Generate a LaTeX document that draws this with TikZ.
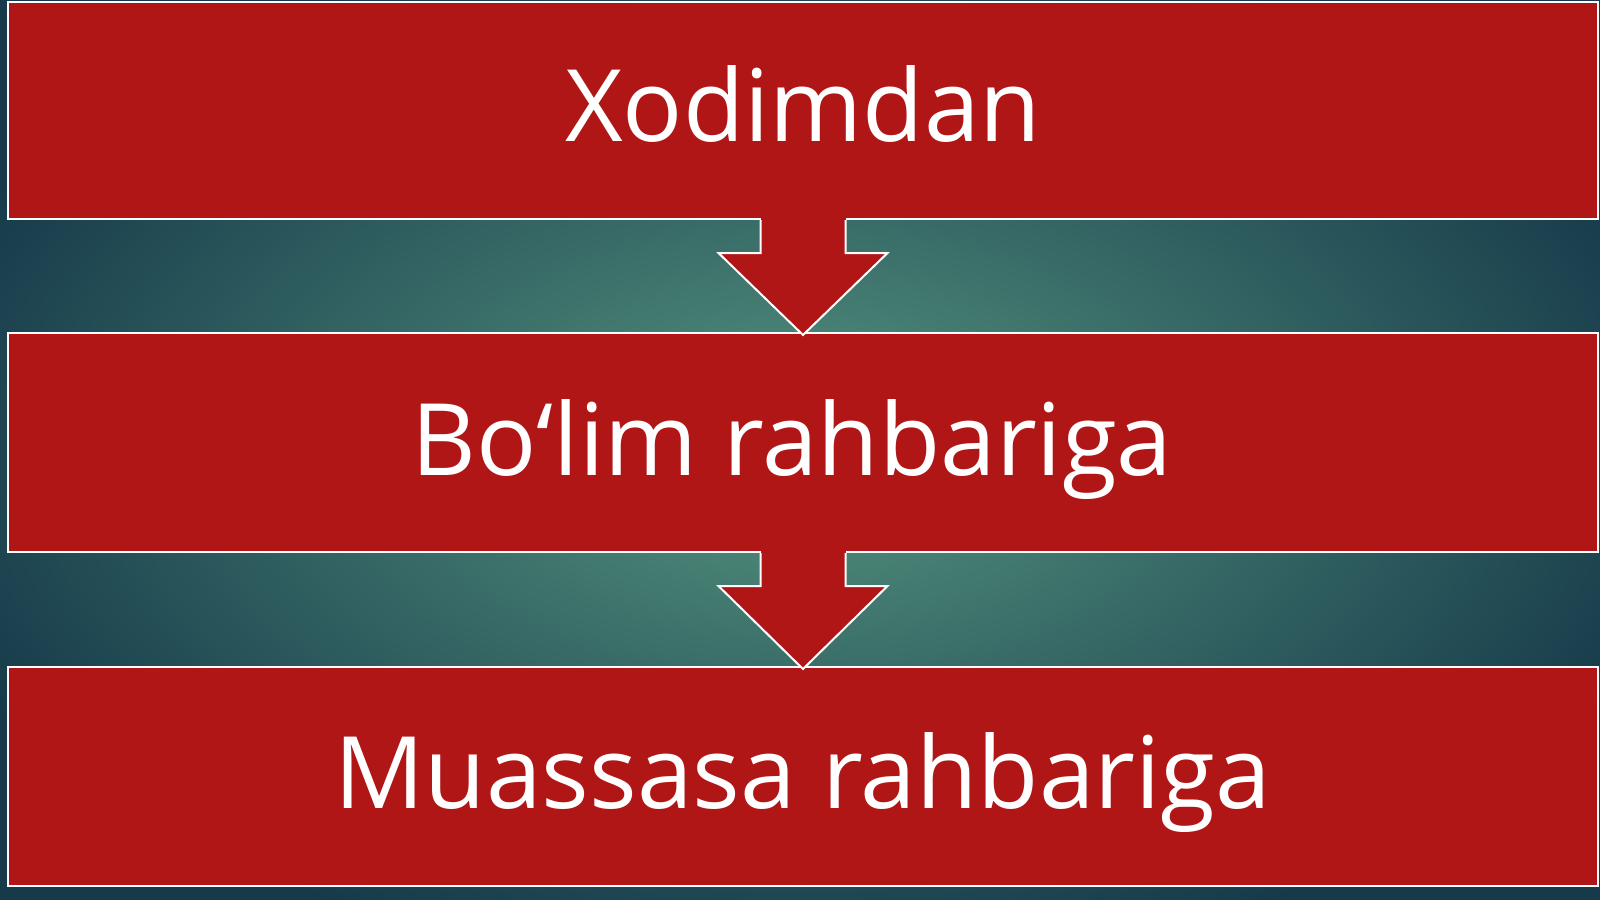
\documentclass[tikz,border=0pt]{standalone}
\usepackage{fontspec}
\setmainfont{Open Sans}
\definecolor{boxred}{HTML}{B11616}
\definecolor{bgdark}{HTML}{163A4A}
\definecolor{bglight}{HTML}{4B8677}
\pgfdeclareradialshading{bgshade}{\pgfpoint{0bp}{0bp}}{color(0bp)=(bglight); color(6bp)=(bglight!94!bgdark); color(29bp)=(bgdark); color(72bp)=(bgdark)}
\begin{document}
\begin{tikzpicture}[x=1pt,y=-1pt,
  boxstyle/.style={fill=boxred,draw=white,line width=2pt,inner sep=0pt,minimum width=1590pt},
  arrowstyle/.style={fill=boxred,draw=white,line width=2pt,line join=miter},
  label/.style={text=white,font=\fontsize{100}{112}\selectfont,anchor=base,inner sep=0pt}]
\useasboundingbox (0,0) rectangle (1600,899);
\shade[shading=bgshade] (0,0) rectangle (1600,899);
% boxes
\node[boxstyle,minimum height=217pt] (b1) at (803,110.5) {};
\node[boxstyle,minimum height=219pt] (b2) at (803,442.5) {};
\node[boxstyle,minimum height=219pt] (b3) at (803,776.5) {};
% arrows
\foreach \s/\t in {b1/b2,b2/b3}{
  \fill[boxred] ([xshift=-42.5pt,yshift=2pt]\s.south) rectangle ([xshift=42.5pt,yshift=-3pt]\s.south);
  \draw[arrowstyle] ([xshift=-42.5pt]\s.south) -- ([xshift=-42.5pt,yshift=-33pt]\s.south)
     -- ([xshift=-84.5pt,yshift=-33pt]\s.south) -- ([yshift=-3pt]\t.north)
     -- ([xshift=84.5pt,yshift=-33pt]\s.south) -- ([xshift=42.5pt,yshift=-33pt]\s.south)
     -- ([xshift=42.5pt]\s.south);
}
% texts
\node[label] (t1) at (803,141) {Xodimdan};
\node[label] (t2) at (792,475) {Bo‘lim rahbariga};
\node[label] (t3) at (803,808) {Muassasa rahbariga};
\end{tikzpicture}
\end{document}
